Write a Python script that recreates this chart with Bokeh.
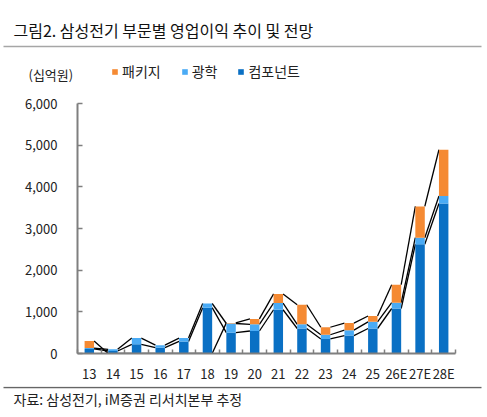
from bokeh.plotting import figure
from bokeh.models import (Legend, LegendItem, FixedTicker, NumeralTickFormatter, Range1d)
from bokeh.layouts import column
from bokeh.core.properties import value
from bokeh.embed import file_html
from bokeh.resources import INLINE

# ---- data (십억원) ----
categories = ["13", "14", "15", "16", "17", "18", "19", "20", "21", "22", "23", "24", "25", "26E", "27E", "28E"]
component = [110, 60, 220, 140, 290, 1100, 500, 540, 1050, 600, 350, 430, 600, 1080, 2620, 3600]
optics = [20, 40, 150, 60, 80, 100, 220, 160, 160, 100, 100, 130, 160, 140, 160, 180]
package = [170, -40, -30, -30, -30, -30, 15, 130, 220, 470, 180, 170, 140, 430, 750, 1110]
y_ticks = [0, 1000, 2000, 3000, 4000, 5000, 6000]
series_names = ["패키지", "광학", "컴포넌트"]
title_text = "그림2. 삼성전기 부문별 영업이익 추이 및 전망"
unit_text = "(십억원)"
source_text = "자료: 삼성전기, iM증권 리서치본부 추정"

FONT = "Noto Sans CJK KR"
C_PKG = "#F58A33"
C_OPT = "#4AABF5"
C_CMP = "#0A70C4"
TXT = "#222222"
BAR_W = 0.4
W = 487
HEAD_H, MAIN_H, FOOT_H = 90, 296, 31

n = len(categories)
xs = list(range(n))
top_c = list(component)
top_o = [c + o for c, o in zip(component, optics)]
pkg_bottom = [t if pk >= 0 else 0 for t, pk in zip(top_o, package)]
pkg_top = [t + pk if pk >= 0 else pk for t, pk in zip(top_o, package)]
line_pkg = [t + pk if pk >= 0 else 0 for t, pk in zip(top_o, package)]


def blank(height):
    f = figure(width=W, height=height, x_range=Range1d(0, W), y_range=Range1d(height, 0),
               output_backend="svg", toolbar_location=None, x_axis_type=None, y_axis_type=None,
               min_border=0, min_border_left=0, min_border_right=0, min_border_top=0, min_border_bottom=0)
    f.frame_align = False
    f.outline_line_color = None
    f.grid.visible = False
    f.background_fill_color = "white"
    f.border_fill_color = "white"
    return f


# ---- header: title, rule, unit, legend ----
head = blank(HEAD_H)
head.text(x=[13], y=[29], text=[title_text], text_font=value(FONT), text_font_size="16px",
          text_color="#111111", text_baseline="middle", text_align="left")
head.segment(x0=[3], y0=[46], x1=[481], y1=[46], line_color="#a6a6a6", line_width=1.5)
head.text(x=[28], y=[74], text=[unit_text], text_font=value(FONT), text_font_size="13px",
          text_color=TXT, text_baseline="middle", text_align="left")
# legend proxies (zero-height, outside the visible range)
proxy = dict(x=[-100], top=[0], bottom=[0], width=1, line_color=None)
lg_p = head.vbar(fill_color=C_PKG, **proxy)
lg_o = head.vbar(fill_color=C_OPT, **proxy)
lg_c = head.vbar(fill_color=C_CMP, **proxy)
legend = Legend(items=[LegendItem(label=series_names[0], renderers=[lg_p]),
                       LegendItem(label=series_names[1], renderers=[lg_o]),
                       LegendItem(label=series_names[2], renderers=[lg_c])],
                location=(111, 9), orientation="horizontal",
                glyph_width=7, glyph_height=7, label_standoff=4, spacing=20,
                padding=0, margin=0, border_line_color=None, background_fill_alpha=0,
                label_text_font=FONT, label_text_font_size="14px", label_text_color=TXT,
                label_height=14)
head.add_layout(legend)

# ---- main chart ----
p = figure(width=W, height=MAIN_H, x_range=Range1d(-0.5, n - 0.5), y_range=Range1d(0, 6000),
           output_backend="svg", toolbar_location=None,
           min_border_left=77, min_border_right=32, min_border_top=13, min_border_bottom=33)
p.frame_align = False
p.outline_line_color = None
p.xgrid.visible = False
p.ygrid.visible = False
p.background_fill_color = "white"
p.border_fill_color = "white"

# series lines connecting stack levels between neighbouring bars
for level in (top_c, top_o, line_pkg):
    p.segment(x0=[x + BAR_W / 2 for x in xs[:-1]], y0=level[:-1],
              x1=[x + 1 - BAR_W / 2 for x in xs[:-1]], y1=level[1:],
              line_color="black", line_width=1.3)

p.vbar(x=xs, bottom=0, top=top_c, width=BAR_W, fill_color=C_CMP, line_color=None)
p.vbar(x=xs, bottom=top_c, top=top_o, width=BAR_W, fill_color=C_OPT, line_color=None)
p.vbar(x=xs, bottom=pkg_bottom, top=pkg_top, width=BAR_W, fill_color=C_PKG, line_color=None)

xa = p.xaxis[0]
xa.ticker = FixedTicker(ticks=xs, minor_ticks=[x - 0.5 for x in xs] + [n - 0.5])
xa.major_label_overrides = {i: c for i, c in enumerate(categories)}
xa.major_tick_in = 0
xa.major_tick_out = 0
xa.minor_tick_in = 4
xa.minor_tick_out = 0
xa.minor_tick_line_color = "#7f7f7f"
xa.minor_tick_line_width = 1.5
xa.axis_line_color = "#7f7f7f"
xa.axis_line_width = 2
xa.major_label_standoff = 10
xa.major_label_text_font = FONT
xa.major_label_text_font_size = "13px"
xa.major_label_text_color = TXT

ya = p.yaxis[0]
ya.ticker = FixedTicker(ticks=y_ticks)
ya.formatter = NumeralTickFormatter(format="0,0")
ya.major_tick_in = 5
ya.major_tick_out = 0
ya.minor_tick_in = 0
ya.minor_tick_out = 0
ya.major_tick_line_color = "#7f7f7f"
ya.major_tick_line_width = 1.5
ya.axis_line_color = "#7f7f7f"
ya.axis_line_width = 2
ya.major_label_standoff = 20
ya.major_label_text_font = FONT
ya.major_label_text_font_size = "13px"
ya.major_label_text_color = TXT

# ---- footer: rule and source ----
foot = blank(FOOT_H)
foot.segment(x0=[3], y0=[1], x1=[481], y1=[1], line_color="#666666", line_width=1.5)
foot.text(x=[13], y=[12], text=[source_text], text_font=value(FONT), text_font_size="14px",
          text_color=TXT, text_baseline="middle", text_align="left")

layout = column(head, p, foot, spacing=0)
open("out.html", "w").write(file_html(layout, INLINE))
